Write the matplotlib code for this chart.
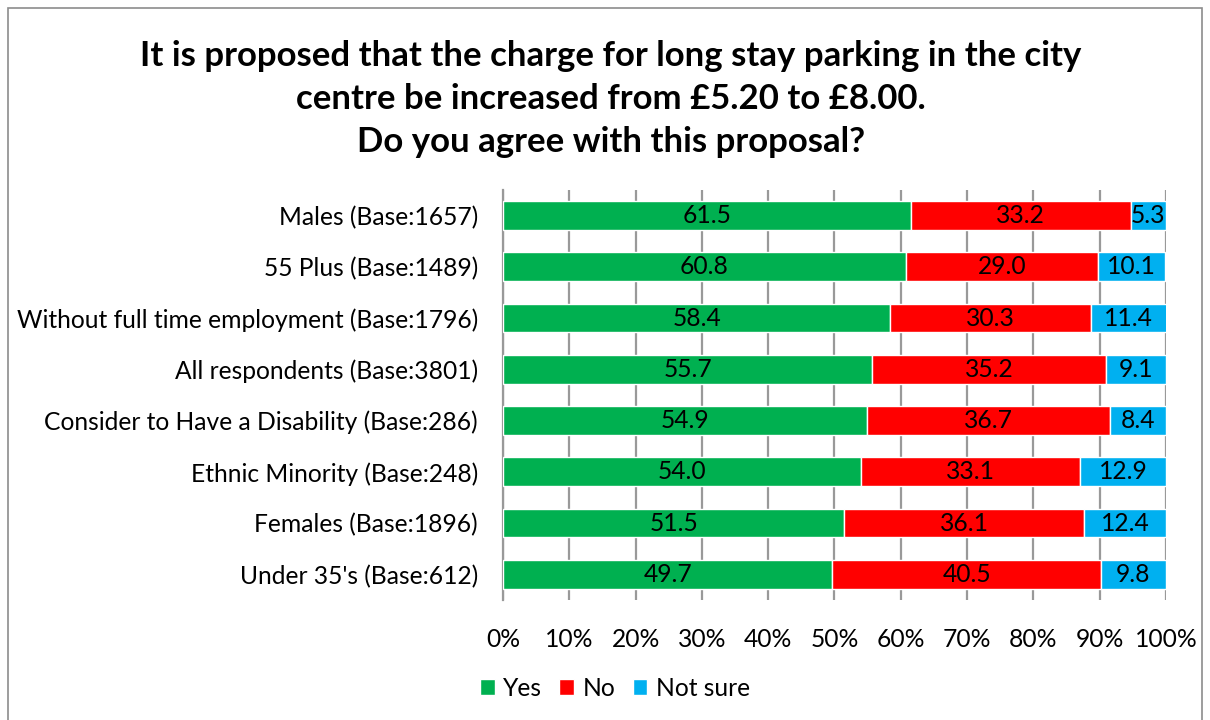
import numpy as np
import matplotlib
matplotlib.use('Agg')
import matplotlib.pyplot as plt
from matplotlib.patches import Rectangle

plt.rcParams['font.family'] = ['Lato', 'DejaVu Sans']

categories = ["Males (Base:1657)", "55 Plus (Base:1489)",
              "Without full time employment (Base:1796)", "All respondents (Base:3801)",
              "Consider to Have a Disability (Base:286)", "Ethnic Minority (Base:248)",
              "Females (Base:1896)", "Under 35's (Base:612)"]
yes = [61.5, 60.8, 58.4, 55.7, 54.9, 54.0, 51.5, 49.7]
no = [33.2, 29.0, 30.3, 35.2, 36.7, 33.1, 36.1, 40.5]
not_sure = [5.3, 10.1, 11.4, 9.1, 8.4, 12.9, 12.4, 9.8]
series_names = ["Yes", "No", "Not sure"]
colors = ['#00B050', '#FF0000', '#00B0F0']

fs = 17.7

fig = plt.figure(figsize=(12.1, 7.2), dpi=100)
fig.patches.append(Rectangle((0.0066, -0.01), 0.987, 0.999, transform=fig.transFigure,
                             fill=False, edgecolor='#8c8c8c', linewidth=1.2))
ax = fig.add_axes([0.4157, 0.1667, 0.5479, 0.5695])

y = np.arange(len(categories))
left = np.zeros(len(categories))
for vals, name, c in zip([yes, no, not_sure], series_names, colors):
    vals = np.array(vals)
    bars = ax.barh(y, vals, left=left, height=0.56, color=c, edgecolor='white',
                   linewidth=1, label=name, zorder=3)
    for b, v in zip(bars, vals):
        ax.text(b.get_x() + b.get_width() / 2, b.get_y() + b.get_height() / 2,
                '%.1f' % v, ha='center', va='center', fontsize=fs, zorder=4)
    left = left + vals

ax.set_ylim(len(categories) - 0.5, -0.5)
ax.set_xlim(0, 100)
ax.set_xticks(np.arange(0, 101, 10))
ax.set_xticklabels(['%d%%' % t for t in range(0, 101, 10)], fontsize=fs)
ax.set_yticks(y)
ax.set_yticklabels(categories, fontsize=fs)
ax.tick_params(axis='x', length=0, pad=20)
ax.tick_params(axis='y', length=0, pad=18)
ax.grid(axis='x', color='#999999', linewidth=1.6, zorder=0)
for s in ['top', 'right', 'bottom']:
    ax.spines[s].set_visible(False)
ax.spines['left'].set_color('#999999')
ax.spines['left'].set_linewidth(1.6)

fig.text(0.505, 0.862, "It is proposed that the charge for long stay parking in the city\n"
         "centre be increased from \u00a35.20 to \u00a38.00.\nDo you agree with this proposal?",
         ha='center', va='center', fontsize=25, fontweight='bold', linespacing=1.42)

ax.legend(loc='center', bbox_to_anchor=(0.169, -0.215), ncol=3, frameon=False,
          fontsize=fs, handlelength=0.6, handleheight=0.6, handletextpad=0.35,
          columnspacing=0.7)

plt.savefig('out.png', dpi=100)
